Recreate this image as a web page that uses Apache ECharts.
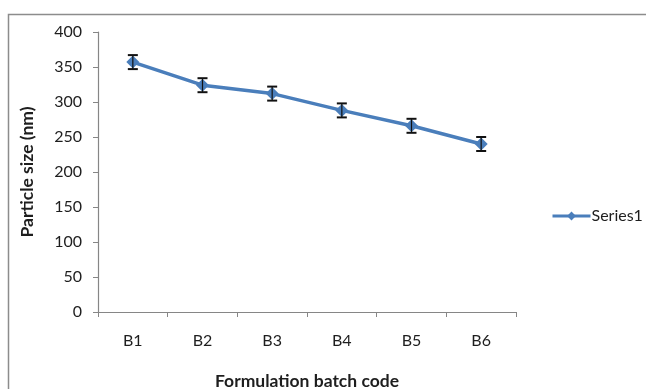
<!DOCTYPE html>
<html>
<head>
<meta charset="utf-8">
<script src="https://cdn.jsdelivr.net/npm/echarts@6/dist/echarts.min.js"></script>
<style>
  html, body { margin: 0; padding: 0; background: #fff; }
  #chart { width: 646px; height: 389px; }
</style>
</head>
<body>
<div id="chart"></div>
<script>
// Particle size per formulation batch, with standard deviation
const batches = ['B1', 'B2', 'B3', 'B4', 'B5', 'B6'];
const particleSize = [357, 324, 312, 288, 266, 240];
const sizeError = [10, 10, 10, 10, 10, 10];
const yTicks = [0, 50, 100, 150, 200, 250, 300, 350, 400];

const FONT = 'Lato, "Open Sans", sans-serif';
const axisGray = '#868686';
const lineBlue = '#4a7ebb';
const textColor = '#1e1e1e';

const errorData = batches.map((b, i) => [i, particleSize[i] - sizeError[i], particleSize[i] + sizeError[i]]);

const chart = echarts.init(document.getElementById('chart'));
chart.setOption({
  animation: false,
  backgroundColor: '#fff',
  graphic: [{
    type: 'rect',
    shape: { x: 8.5, y: 14.5, width: 700, height: 400 },
    style: { fill: 'none', stroke: '#8c8c8c', lineWidth: 1.5 },
    silent: true
  }],
  grid: { left: 98, top: 32, right: 130, bottom: 77, outerBoundsMode: 'none', containLabel: false },
  legend: {
    data: ['Series1'],
    left: 546,
    top: 203,
    itemWidth: 38,
    itemHeight: 11,
    itemGap: 2,
    lineStyle: { width: 3 },
    textStyle: { fontFamily: FONT, fontSize: 16, color: textColor, padding: [0, 0, 0, -4] }
  },
  xAxis: {
    type: 'category',
    data: batches,
    boundaryGap: true,
    name: 'Formulation batch code',
    nameLocation: 'middle',
    nameGap: 60,
    nameTextStyle: { fontFamily: FONT, fontSize: 17.5, fontWeight: 'bold', color: textColor },
    axisLine: { lineStyle: { color: axisGray, width: 1.2 } },
    axisTick: { show: true, length: 5, lineStyle: { color: axisGray } },
    axisLabel: { fontFamily: FONT, fontSize: 16, color: textColor, margin: 21 },
    splitLine: { show: false }
  },
  yAxis: {
    type: 'value',
    min: yTicks[0],
    max: yTicks[yTicks.length - 1],
    interval: 50,
    name: 'Particle size (nm)',
    nameLocation: 'middle',
    nameGap: 62,
    nameTextStyle: { fontFamily: FONT, fontSize: 17.5, fontWeight: 'bold', color: textColor },
    axisLine: { show: true, lineStyle: { color: axisGray, width: 1.2 } },
    axisTick: { show: true, length: 5, lineStyle: { color: axisGray } },
    axisLabel: { fontFamily: FONT, fontSize: 16, color: textColor, margin: 16 },
    splitLine: { show: false }
  },
  series: [
    {
      name: 'Series1',
      type: 'line',
      data: particleSize,
      symbol: 'diamond',
      symbolSize: 13,
      lineStyle: { color: lineBlue, width: 3.5 },
      itemStyle: { color: lineBlue },
      z: 3
    },
    {
      name: 'error',
      type: 'custom',
      data: errorData,
      z: 4,
      renderItem: function (params, api) {
        const x = api.value(0);
        const lo = api.coord([x, api.value(1)]);
        const hi = api.coord([x, api.value(2)]);
        const cap = 5;
        const style = { stroke: '#111', lineWidth: 2 };
        return {
          type: 'group',
          children: [
            { type: 'line', shape: { x1: lo[0], y1: lo[1], x2: hi[0], y2: hi[1] }, style: { stroke: '#111', lineWidth: 1.2 } },
            { type: 'line', shape: { x1: lo[0] - cap, y1: lo[1], x2: lo[0] + cap, y2: lo[1] }, style: style },
            { type: 'line', shape: { x1: hi[0] - cap, y1: hi[1], x2: hi[0] + cap, y2: hi[1] }, style: style }
          ]
        };
      }
    }
  ]
});
</script>
</body>
</html>
